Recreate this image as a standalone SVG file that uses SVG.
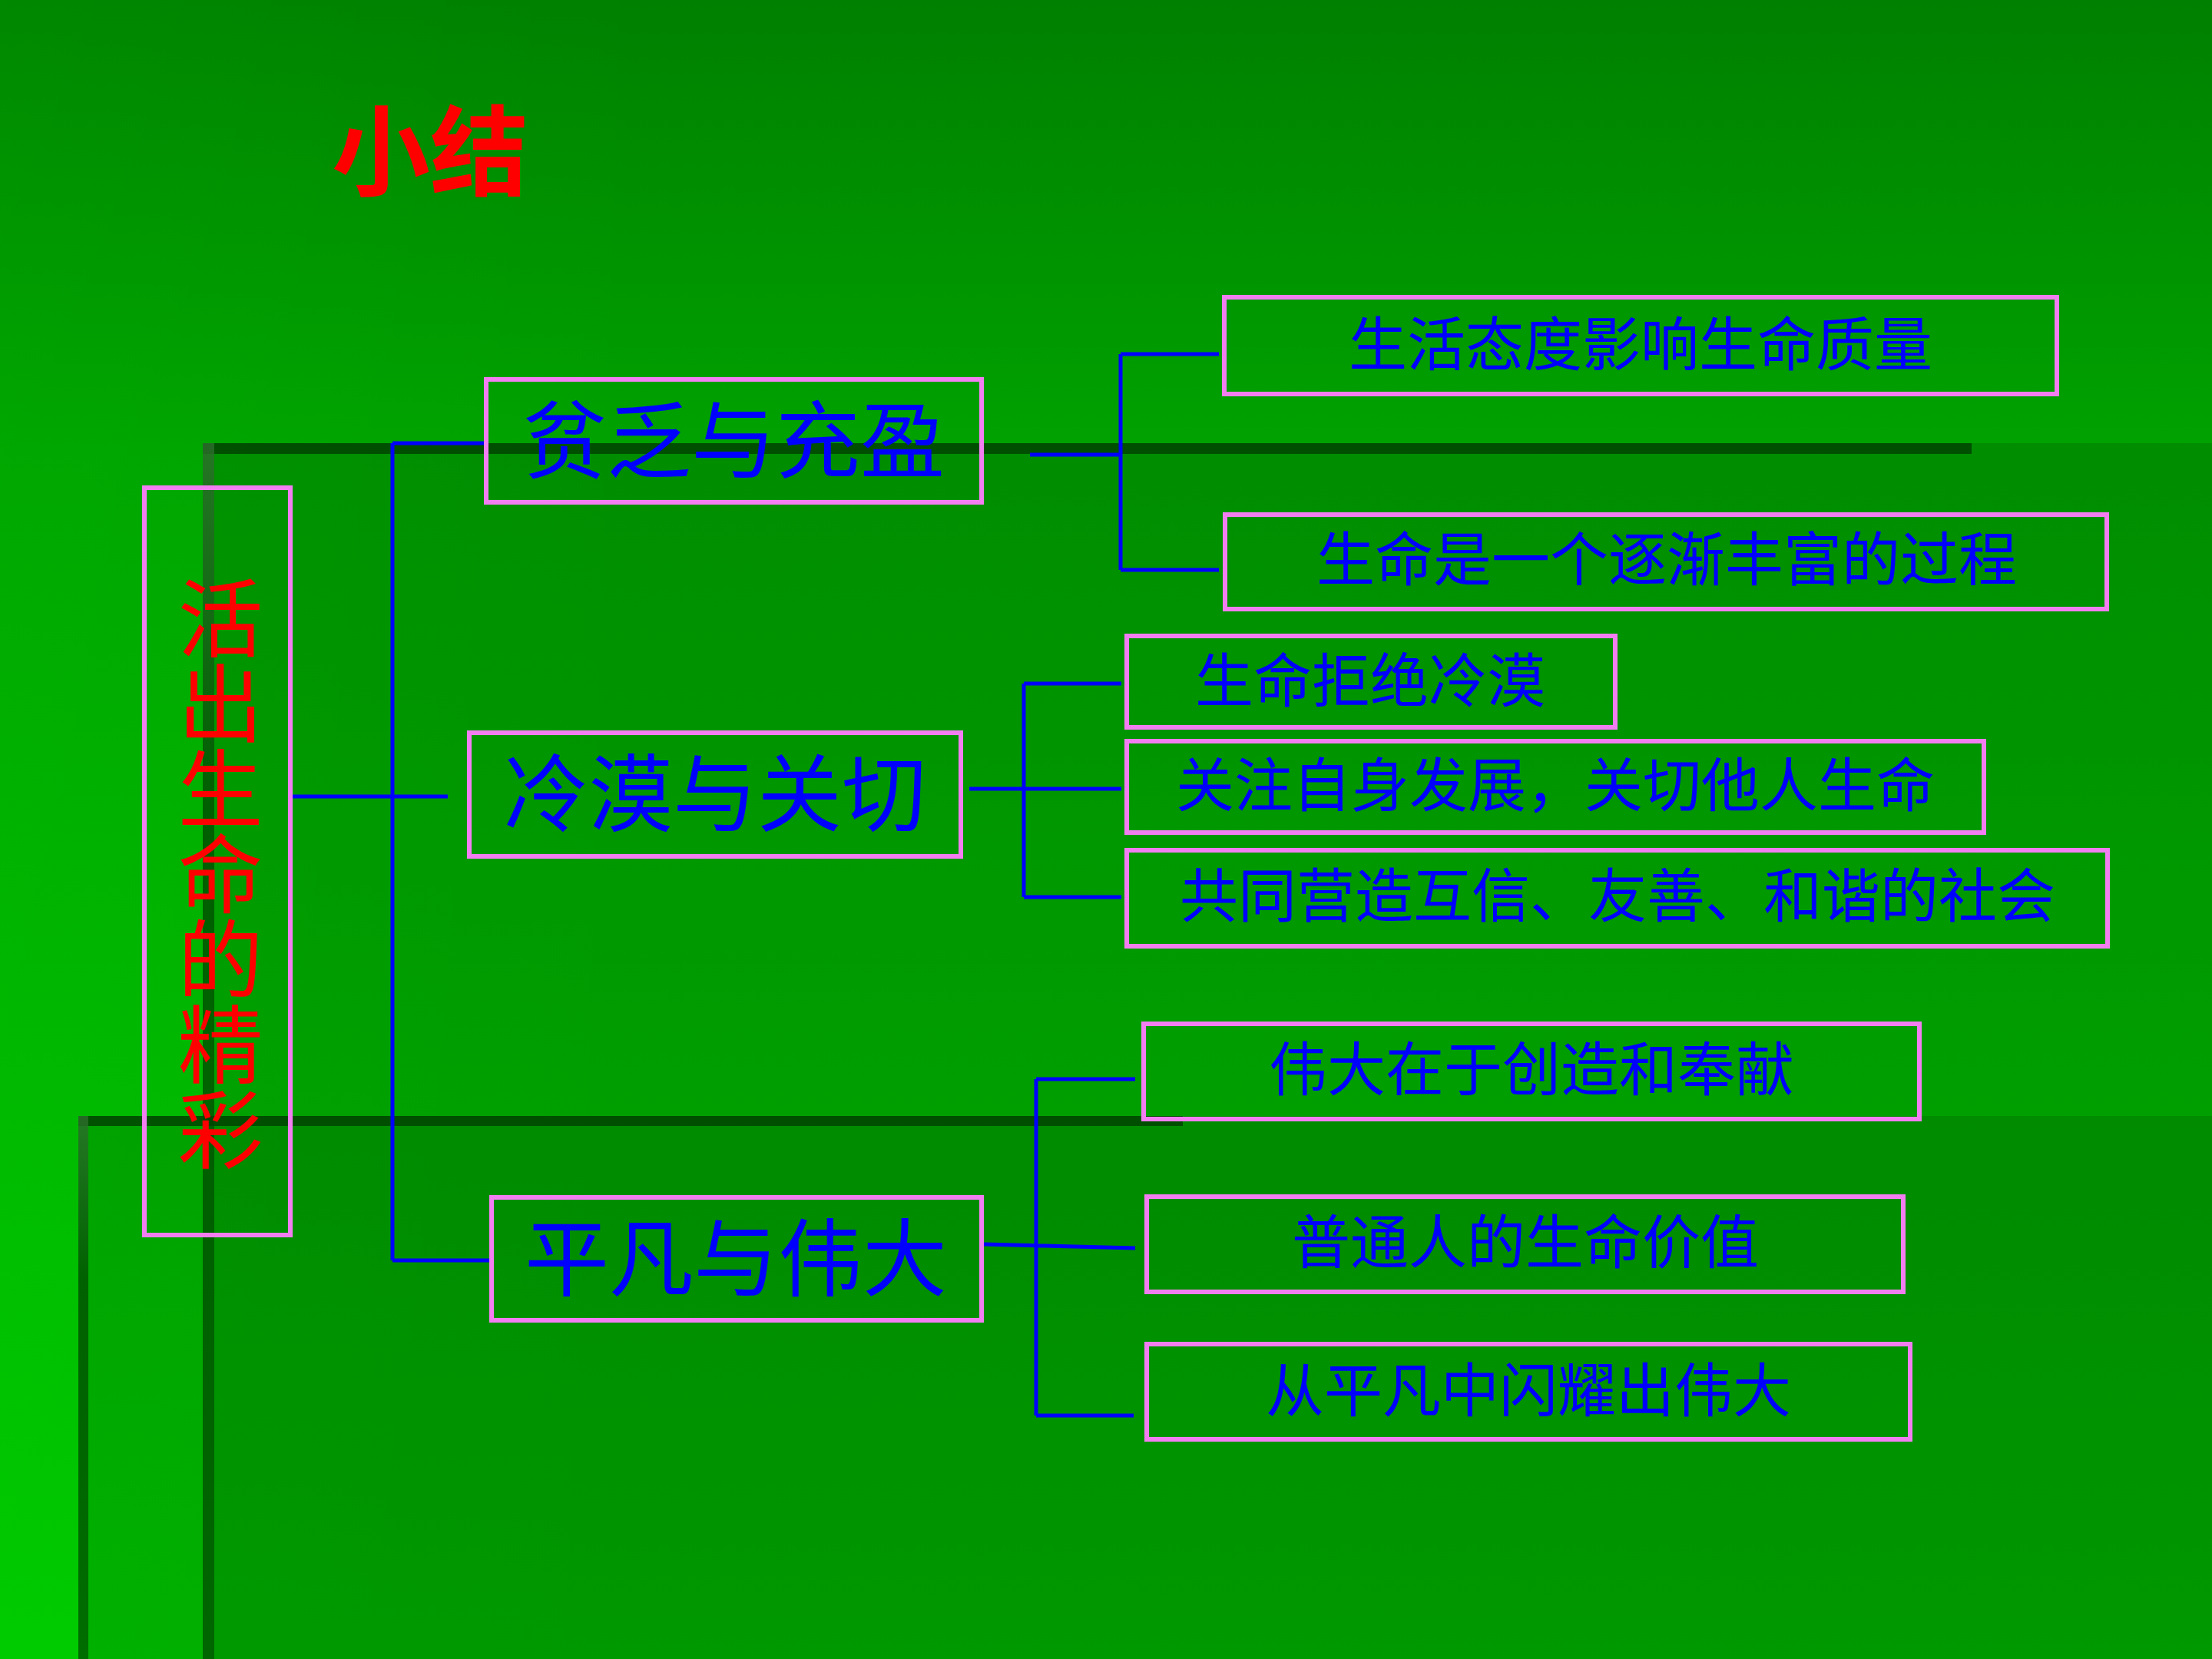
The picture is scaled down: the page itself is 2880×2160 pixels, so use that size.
<svg xmlns="http://www.w3.org/2000/svg" width="2880" height="2160" viewBox="0 0 2880 2160">
<defs>
<linearGradient id="bg" x1="0" y1="0" x2="0" y2="1">
<stop offset="0" stop-color="#008000"/>
<stop offset="0.27" stop-color="#00A200"/>
<stop offset="0.67" stop-color="#00B600"/>
<stop offset="1" stop-color="#00C800"/>
</linearGradient>
<linearGradient id="side" x1="0" y1="0" x2="1" y2="0">
<stop offset="0" stop-color="#00FF00" stop-opacity="0.06"/>
<stop offset="0.3" stop-color="#00FF00" stop-opacity="0"/>
</linearGradient>
<linearGradient id="vbar" x1="0" y1="0" x2="0" y2="1">
<stop offset="0" stop-color="#2E6E2E" stop-opacity="0.8"/>
<stop offset="0.3" stop-color="#005000" stop-opacity="0.8"/>
<stop offset="1" stop-color="#005000" stop-opacity="0.7"/>
</linearGradient>
<style>
.box{fill:none;stroke:#F27EF2;stroke-width:6}
.t1{font-family:"Noto Sans CJK SC",sans-serif;font-size:110px;fill:#0000FF;text-anchor:middle;dominant-baseline:central}
.t2{font-family:"Noto Sans CJK SC",sans-serif;font-size:76px;fill:#0000FF;text-anchor:middle;dominant-baseline:central}
.conn{fill:none;stroke:#0000FF;stroke-width:5}
.panel{fill:#000;fill-opacity:0.125}
</style>
</defs>
<rect x="0" y="0" width="2880" height="2160" fill="url(#bg)"/>
<rect x="0" y="0" width="2880" height="2160" fill="url(#side)"/>
<g id="decor">
<rect class="panel" x="264" y="577" width="2616" height="1583"/>
<rect class="panel" x="102" y="1453" width="2778" height="707"/>
<rect x="264" y="577" width="2303" height="14" fill="#004400" fill-opacity="0.85"/>
<rect x="264" y="577" width="15" height="1583" fill="url(#vbar)"/>
<rect x="102" y="1453" width="1438" height="13" fill="#004400" fill-opacity="0.85"/>
<rect x="102" y="1453" width="13" height="707" fill="url(#vbar)"/>
</g>
<text id="title" x="432" y="245" font-family="Noto Sans CJK SC, sans-serif" font-size="128" font-weight="bold" fill="#FF0000">小结</text>
<g id="connectors">
<path class="conn" d="M380 1037 H583 M511 577 V1641 M511 577 H630 M511 1641 H637"/>
<path class="conn" d="M1341 592 H1459 M1459 461 V742 M1459 461 H1587 M1459 742 H1587"/>
<path class="conn" d="M1262 1027 H1460 M1333 890 V1168 M1333 890 H1460 M1333 1168 H1460"/>
<path class="conn" d="M1281 1620 L1478 1625 M1349 1405 V1843 M1349 1405 H1478 M1349 1843 H1476"/>
</g>
<g id="root">
<rect class="box" x="188" y="635" width="190" height="973"/>
<text x="287" y="749" writing-mode="vertical-rl" font-family="Noto Sans CJK SC, sans-serif" font-size="111" fill="#FF0000">活出生命的精彩</text>
</g>
<g id="n1"><rect class="box" x="633" y="494" width="645" height="160"/><text class="t1" x="955" y="566">贫乏与充盈</text></g>
<g id="n2"><rect class="box" x="611" y="954" width="640" height="161"/><text class="t1" x="931" y="1026">冷漠与关切</text></g>
<g id="n3"><rect class="box" x="640" y="1559" width="638" height="160"/><text class="t1" x="958" y="1631">平凡与伟大</text></g>
<g id="n1a"><rect class="box" x="1594" y="387" width="1084" height="126"/><text class="t2" x="2136" y="443">生活态度影响生命质量</text></g>
<g id="n1b"><rect class="box" x="1595" y="670" width="1148" height="123"/><text class="t2" x="2170" y="723">生命是一个逐渐丰富的过程</text></g>
<g id="n2a"><rect class="box" x="1467" y="828" width="636" height="119"/><text class="t2" x="1784" y="881">生命拒绝冷漠</text></g>
<g id="n2b"><rect class="box" x="1467" y="965" width="1116" height="119"/><text class="t2" x="2025" y="1017">关注自身发展，关切他人生命</text></g>
<g id="n2c"><rect class="box" x="1467" y="1107" width="1277" height="125"/><text class="t2" x="2106" y="1161">共同营造互信、友善、和谐的社会</text></g>
<g id="n3a"><rect class="box" x="1489" y="1333" width="1010" height="124"/><text class="t2" x="1994" y="1387">伟大在于创造和奉献</text></g>
<g id="n3b"><rect class="box" x="1493" y="1558" width="985" height="124"/><text class="t2" x="1986" y="1612">普通人的生命价值</text></g>
<g id="n3c"><rect class="box" x="1493" y="1750" width="994" height="124"/><text class="t2" x="1990" y="1805">从平凡中闪耀出伟大</text></g>
</svg>
